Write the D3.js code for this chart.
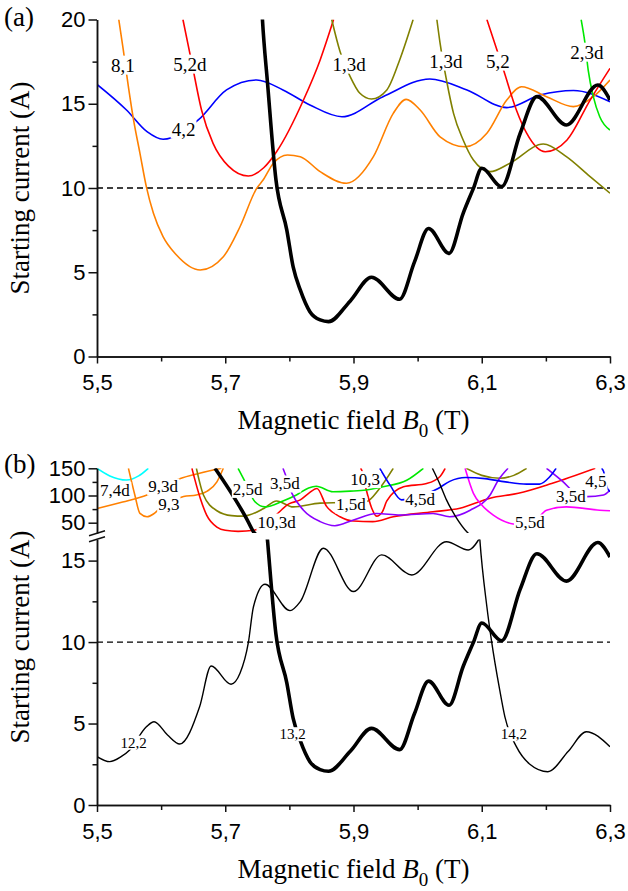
<!DOCTYPE html>
<html>
<head>
<meta charset="utf-8">
<script src="https://cdn.jsdelivr.net/npm/d3@7"></script>
<style>
  body { margin: 0; background: #fff; }
  svg text { font-family: "Liberation Serif", "Times New Roman", serif; fill: #000; }
  .axis text { font-family: "Liberation Sans", Arial, sans-serif; font-size: 22px; }
  .axis path, .axis line { stroke: #111; stroke-width: 1.5; }
</style>
</head>
<body>
<script>
// ---- panel (a) curves: [B0 (T), starting current (A)] ----
const m81 = [[5.534,20],[5.541,18.2],[5.546,16.8],[5.557,14.04],[5.567,12.06],[5.577,10.07],[5.588,8.5],[5.603,7.11],[5.624,6.02],[5.661,5.13],[5.697,5.92],[5.723,7.7],[5.749,9.98],[5.759,10.47],[5.775,11.47],[5.797,11.96],[5.817,11.86],[5.848,10.97],[5.889,10.28],[5.931,11.86],[5.962,14.43],[5.982,15.26],[6.004,14.63],[6.035,13.04],[6.074,12.45],[6.108,13.25],[6.139,15.22],[6.162,16.01],[6.201,15.42],[6.243,14.83],[6.274,15.42],[6.3,16.41]]
const m42 = [[5.5,16.15],[5.546,14.63],[5.578,13.34],[5.603,12.89],[5.658,14.04],[5.702,15.82],[5.749,16.41],[5.79,15.82],[5.832,14.93],[5.882,14.23],[5.946,15.42],[6.019,16.47],[6.077,15.82],[6.139,14.77],[6.191,15.52],[6.243,15.79],[6.3,15.12]]
const m52d = [[5.634,20],[5.648,17.4],[5.663,14.63],[5.681,12.65],[5.705,11.3],[5.736,10.71],[5.76,11.2],[5.78,12.15],[5.822,15.22],[5.848,17.6],[5.869,20]]
const m52 = [[6.108,20],[6.134,17.0],[6.154,14.63],[6.17,13.25],[6.199,12.15],[6.233,12.85],[6.269,15.22],[6.3,17.1]]
const m13dA = [[5.866,20],[5.879,18.1],[5.895,16.6],[5.91,15.62],[5.928,15.28],[5.952,15.82],[5.972,17.6],[5.993,20]]
const m13dB = [[6.03,20],[6.035,18.6],[6.045,16.41],[6.056,14.43],[6.071,12.85],[6.087,11.66],[6.113,10.97],[6.144,11.47],[6.196,12.61],[6.232,11.86],[6.269,10.67],[6.3,9.69]]
const m23d = [[6.255,20],[6.261,18.6],[6.266,17.0],[6.274,15.42],[6.284,14.23],[6.3,13.44]]
// 13,2 is drawn in both panels; in (b) it crosses the axis break
const m132 = [[5.684,150],[5.713,98],[5.733,58],[5.744,33.5],[5.758,20],[5.766,16.2],[5.779,10.5],[5.796,7.5],[5.806,5.3],[5.817,3.95],[5.832,2.66],[5.848,2.17],[5.861,2.07],[5.895,3.3],[5.928,4.7],[5.972,3.4],[5.995,5.6],[6.017,7.6],[6.049,6.12],[6.071,8.5],[6.087,9.98],[6.1,11.17],[6.131,10.08],[6.16,13.25],[6.186,15.42],[6.232,13.74],[6.281,16.11],[6.3,15.22]]

// ---- panel (b) curves ----
const m122 = [[5.5,2.97],[5.52,2.66],[5.537,2.95],[5.551,3.38],[5.577,4.8],[5.589,5.11],[5.61,4.3],[5.629,3.74],[5.66,6.03],[5.678,8.53],[5.709,7.41],[5.723,8.08],[5.736,9.96],[5.744,12.17],[5.762,13.55],[5.801,11.93],[5.817,12.48],[5.853,15.76],[5.9,13.1],[5.944,15.35],[5.991,14.12],[6.045,16.16],[6.079,15.65],[6.1,16.6]]
const m142 = [[6.023,150],[6.035,120],[6.045,92],[6.06,60],[6.077,33],[6.097,16.3],[6.108,12.17],[6.115,10.13],[6.128,7.06],[6.136,5.42],[6.154,3.58],[6.175,2.5],[6.203,2.04],[6.235,3.3],[6.263,4.5],[6.3,3.58]]
const m74d = [[5.5,150],[5.52,136],[5.546,128.5],[5.565,136],[5.58,150]]
const m93d = [[5.5,76],[5.54,88],[5.578,101],[5.629,131],[5.66,141],[5.694,150]]
const m93 = [[5.549,150],[5.559,101],[5.567,67],[5.578,61],[5.588,66],[5.598,76],[5.635,98],[5.655,101],[5.672,108],[5.687,125],[5.697,150]]
const m103d = [[5.648,150],[5.661,95],[5.671,64],[5.687,42],[5.7,36],[5.72,34],[5.745,36],[5.775,60],[5.8,85],[5.817,92],[5.83,104],[5.843,113],[5.858,80],[5.879,61],[5.9,53],[5.93,52],[5.962,61],[6.024,70],[6.066,76.5],[6.113,95],[6.157,104],[6.209,122],[6.277,150]]
const m15d = [[5.655,150],[5.666,101],[5.687,72],[5.71,63],[5.728,62],[5.76,76],[5.78,90],[5.806,79],[5.848,86],[5.885,87],[5.92,89],[5.94,112],[5.962,150]]
const mOliveTop = [[6.076,150],[6.1,137],[6.128,131.6],[6.15,137],[6.17,150]]
const m25d = [[5.72,150],[5.728,132],[5.746,89],[5.762,79],[5.79,90],[5.811,101],[5.83,114],[5.842,117],[5.868,107],[5.895,108],[5.92,110],[5.946,116],[5.983,128],[6.009,150]]
const m35d = [[5.79,150],[5.793,141],[5.804,104],[5.822,73],[5.848,52],[5.871,44.5],[5.9,55],[5.936,67],[5.973,64],[6.024,67],[6.05,61],[6.082,73],[6.113,101],[6.126,128.5],[6.141,150]]
const m35dR = [[6.201,150],[6.227,125],[6.245,105],[6.264,98],[6.29,101],[6.3,110]]
const m45d = [[5.941,150],[5.957,119],[5.975,92],[6.032,113],[6.05,126],[6.075,133],[6.105,131],[6.137,125],[6.17,121],[6.19,121],[6.205,133],[6.216,150]]
const m45 = [[6.287,150],[6.29,144],[6.295,116],[6.3,107]]
const m55d = [[6.074,150],[6.087,104],[6.1,82.5],[6.118,64],[6.149,47.6],[6.175,45],[6.201,73],[6.232,79],[6.284,73],[6.3,72]]
const m103 = [[5.911,150],[5.913,146],[5.92,110],[5.928,78],[5.936,62],[5.945,70],[5.952,90],[5.978,116],[6.014,122],[6.035,135],[6.043,150]]

// ---- labels: [text, B0, current] ----
const labelsA = [['8,1',5.5405,17.3],['5,2d',5.645,17.36],['4,2',5.635,13.5],['1,3d',5.893,17.36],['1,3d',6.044,17.54],['5,2',6.125,17.54],['2,3d',6.264,18.07]]
const labelsUp = [['7,4d',5.528,110],['9,3d',5.603,116.5],['9,3',5.612,84],['2,5d',5.735,112],['3,5d',5.793,122],['10,3d',5.78,52],['1,5d',5.896,83.5],['10,3',5.918,130],['4,5d',6.004,93.6],['5,5d',6.175,50.4],['3,5d',6.239,99],['4,5',6.278,125.7]]
const labelsLo = [['12,2',5.557,3.84],['13,2',5.805,4.36],['14,2',6.15,4.36]]

const xTicks = [5.5, 5.7, 5.9, 6.1, 6.3]
const xMinor = [5.6, 5.8, 6.0, 6.2]
const yTicksA = [0, 5, 10, 15, 20]
const yMinorA = [2.5, 7.5, 12.5, 17.5]
const yTicksUp = [50, 100, 150]
const yMinorUp = [75, 125]
const yTicksLo = [0, 5, 10, 15]
const yMinorLo = [2.5, 7.5, 12.5]
const threshold = 10

const c = {
    orange: '#ff8000', blue: '#0000ff', red: '#ff0000', olive: '#808000',
    green: '#00e800', cyan: '#00ffff', purple: '#8a00ff', magenta: '#ff00ff', black: '#000'
}

const seriesA = [
    { v: m42, color: c.blue }, { v: m81, color: c.orange }, { v: m52d, color: c.red },
    { v: m52, color: c.red }, { v: m13dA, color: c.olive }, { v: m13dB, color: c.olive },
    { v: m23d, color: c.green }, { v: m132, color: c.black, w: 3.6 }
]
const seriesUp = [
    { v: m74d, color: c.cyan }, { v: m93d, color: c.orange }, { v: m93, color: c.orange },
    { v: m15d, color: c.olive }, { v: mOliveTop, color: c.olive }, { v: m103d, color: c.red },
    { v: m103, color: c.red }, { v: m25d, color: c.green }, { v: m35d, color: c.purple },
    { v: m35dR, color: c.purple }, { v: m55d, color: c.magenta }, { v: m45d, color: c.blue },
    { v: m45, color: c.blue }, { v: m142, color: c.black, w: 1.4 }, { v: m132, color: c.black, w: 3.6 }
]
const seriesLo = [
    { v: m122, color: c.black, w: 1.4 }, { v: m142, color: c.black, w: 1.4 },
    { v: m132, color: c.black, w: 3.6 }
]

const w = 628
const h = 891
const left = 97
const right = 610

const svg = d3.select('body').append('svg')
    .attr('width', w)
    .attr('height', h)

const x = d3.scaleLinear().domain([5.5, 6.3]).range([left, right])
const yA = d3.scaleLinear().domain([0, 20]).range([356.5, 19.5])
const yUp = d3.scaleLinear().domain([50, 150]).range([522.7, 468.3])
const yLo = d3.scaleLinear().domain([0, 15]).range([805, 560.6])
const upBottom = 533
const loTop = 539.5

const defs = svg.append('defs')
const addClip = (id, y0, y1) => {
    defs.append('clipPath').attr('id', id)
        .append('rect')
        .attr('x', left).attr('y', y0)
        .attr('width', right - left).attr('height', y1 - y0)
}
addClip('clipA', yA(20), yA(0))
addClip('clipUp', yUp(150), upBottom)
addClip('clipLo', loTop, yLo(0))

const drawCurves = (list, y, clip) => {
    const line = d3.line()
        .x(d => x(d[0]))
        .y(d => y(d[1]))
        .curve(d3.curveMonotoneX)
    svg.append('g')
        .attr('clip-path', `url(#${clip})`)
        .selectAll('path')
        .data(list)
        .enter()
        .append('path')
        .attr('d', d => line(d.v))
        .attr('fill', 'none')
        .attr('stroke', d => d.color)
        .attr('stroke-width', d => d.w || 1.6)
        .attr('stroke-linejoin', 'round')
}

const drawDashed = (y) => {
    svg.append('line')
        .attr('x1', x(5.5)).attr('x2', x(6.3))
        .attr('y1', y(threshold)).attr('y2', y(threshold))
        .attr('stroke', '#000')
        .attr('stroke-width', 1.3)
        .attr('stroke-dasharray', '6,4')
}

const drawLabels = (list, y, size) => {
    list.forEach(([t, bx, by]) => {
        const g = svg.append('g')
        const rect = g.append('rect').attr('fill', '#fff')
        const text = g.append('text')
            .attr('x', x(bx))
            .attr('y', y(by))
            .attr('dy', '0.35em')
            .attr('text-anchor', 'middle')
            .style('font-size', size + 'px')
            .text(t)
        const b = text.node().getBBox()
        rect.attr('x', b.x - 1).attr('y', b.y + 1)
            .attr('width', b.width + 2).attr('height', b.height - 2)
    })
}

const drawXAxis = (yPos) => {
    svg.append('g')
        .attr('class', 'axis')
        .attr('transform', `translate(0,${yPos})`)
        .call(d3.axisBottom(x).tickValues(xMinor).tickSize(5).tickFormat('').tickSizeOuter(0))
    svg.append('g')
        .attr('class', 'axis')
        .attr('transform', `translate(0,${yPos})`)
        .call(d3.axisBottom(x).tickValues(xTicks).tickSize(7).tickPadding(11).tickSizeOuter(0)
            .tickFormat(d => d3.format('.1f')(d).replace('.', ',')))
}

const drawYAxis = (scale, major, minor) => {
    svg.append('g')
        .attr('class', 'axis')
        .attr('transform', `translate(${left},0)`)
        .call(d3.axisLeft(scale).tickValues(minor).tickSize(4.5).tickFormat('').tickSizeOuter(0))
    svg.append('g')
        .attr('class', 'axis')
        .attr('transform', `translate(${left},0)`)
        .call(d3.axisLeft(scale).tickValues(major).tickSize(8.5).tickPadding(3).tickSizeOuter(0))
}

const yTitle = (cy) => {
    svg.append('text')
        .attr('transform', `translate(29,${cy}) rotate(-90)`)
        .attr('text-anchor', 'middle')
        .style('font-size', '27px')
        .text('Starting current (A)')
}

const xTitle = (baseline) => {
    const t = svg.append('text')
        .attr('x', (left + right) / 2)
        .attr('y', baseline)
        .attr('text-anchor', 'middle')
        .style('font-size', '27px')
    t.append('tspan').text('Magnetic field ')
    t.append('tspan').style('font-style', 'italic').text('B')
    t.append('tspan').attr('dy', 8).style('font-size', '19px').text('0')
    t.append('tspan').attr('dy', -8).text(' (T)')
}

// ---- panel (a) ----
drawDashed(yA)
drawCurves(seriesA, yA, 'clipA')
drawLabels(labelsA, yA, 19)
drawXAxis(yA(0))
drawYAxis(yA, yTicksA, yMinorA)
yTitle((yA(0) + yA(20)) / 2)
xTitle(429)
svg.append('text').attr('x', 4).attr('y', 26).style('font-size', '27px').text('(a)')

// ---- panel (b) ----
drawDashed(yLo)
drawCurves(seriesUp, yUp, 'clipUp')
drawCurves(seriesLo, yLo, 'clipLo')
drawLabels(labelsUp, yUp, 17)
drawLabels(labelsLo, yLo, 15)
drawXAxis(yLo(0))
const yUpAxis = yUp.copy().domain([yUp.invert(upBottom), 150]).range([upBottom, yUp(150)])
const yLoAxis = yLo.copy().domain([0, yLo.invert(loTop)]).range([yLo(0), loTop])
drawYAxis(yUpAxis, yTicksUp, yMinorUp)
drawYAxis(yLoAxis, yTicksLo, yMinorLo)

// axis break marks
const breakMid = (upBottom + loTop) / 2
svg.append('g').selectAll('line')
    .data([-3, 3])
    .enter()
    .append('line')
    .attr('x1', left - 8).attr('x2', left + 8)
    .attr('y1', d => breakMid + d + 2.5).attr('y2', d => breakMid + d - 2.5)
    .attr('stroke', '#111')
    .attr('stroke-width', 1.4)

yTitle(637)
xTitle(878)
svg.append('text').attr('x', 4).attr('y', 473).style('font-size', '27px').text('(b)')
</script>
</body>
</html>
